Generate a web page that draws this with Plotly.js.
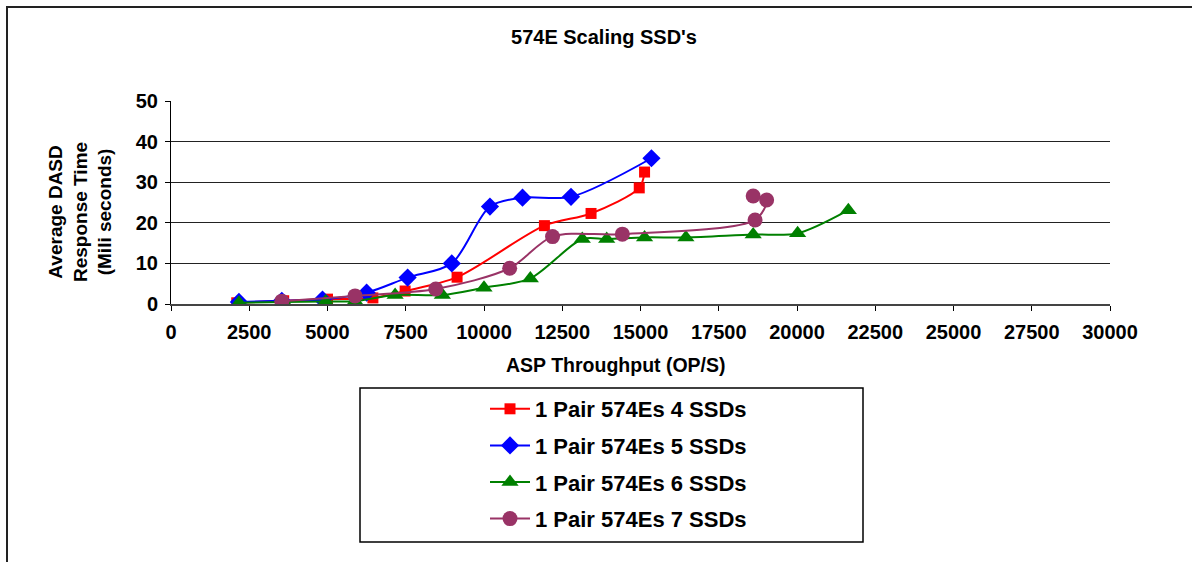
<!DOCTYPE html>
<html>
<head>
<meta charset="utf-8">
<script src="https://cdn.plot.ly/plotly-3.0.1.min.js"></script>
<style>
html,body{margin:0;padding:0;background:#fff;}
#chart{width:1192px;height:562px;}
</style>
</head>
<body>
<div id="chart"></div>
<script>
// ---- data ----
const seriesNames = ["1 Pair 574Es 4 SSDs", "1 Pair 574Es 5 SSDs", "1 Pair 574Es 6 SSDs", "1 Pair 574Es 7 SSDs"];

const ssd4X = [2100, 3600, 5000, 6450, 7480, 9140, 11930, 13420, 14960, 15130];
const ssd4Y = [0.3, 0.8, 1.2, 1.5, 3.2, 6.6, 19.3, 22.3, 28.6, 32.5];

const ssd5X = [2170, 3540, 4840, 6250, 7560, 8970, 10190, 11230, 12780, 15350];
const ssd5Y = [0.5, 0.8, 1.1, 2.8, 6.5, 10.0, 24.0, 26.2, 26.4, 35.9];

const ssd6X = [2170, 3600, 4940, 5880, 7160, 8670, 10000, 11480, 13140, 13920, 15130, 16450, 18600, 20020, 21640];
const ssd6Y = [0.3, 0.5, 0.6, 0.7, 2.2, 2.2, 4.0, 6.3, 16.0, 16.0, 16.4, 16.4, 17.1, 17.4, 23.1];

const ssd7X = [3540, 5880, 8460, 10820, 12190, 14420, 18660, 19030, 18600];
const ssd7Y = [0.7, 2.0, 3.7, 8.8, 16.6, 17.2, 20.7, 25.6, 26.6];

const xTickVals = [0, 2500, 5000, 7500, 10000, 12500, 15000, 17500, 20000, 22500, 25000, 27500, 30000];
const yTickVals = [0, 10, 20, 30, 40, 50];

const chartTitle = "574E Scaling SSD's";
const xTitle = "ASP Throughput (OP/S)";
const yTitle = "Average DASD<br>Response Time<br>(Mili seconds)";

// ---- styling ----
const FONT = "Arial, 'Liberation Sans', sans-serif";
const colors = ["#FF0000", "#0000FF", "#008000", "#993366"];
const symbols = ["square", "diamond", "triangle-up", "circle"];
const sizes = [11, 14, 15, 15];
const xs = [ssd4X, ssd5X, ssd6X, ssd7X];
const ys = [ssd4Y, ssd5Y, ssd6Y, ssd7Y];

const traces = seriesNames.map((name, i) => ({
  type: "scatter",
  mode: "lines+markers",
  name: name,
  legendgroup: "g" + i,
  x: xs[i],
  y: ys[i],
  line: {color: colors[i], width: 2, shape: "spline", smoothing: 0.85},
  marker: {color: colors[i], symbol: symbols[i], size: sizes[i], line: {width: 0}},
  hoverinfo: "x+y+name"
}));

// plot area in pixels: left 171, right 1110, top 101, bottom 304
const L = 171, R = 1110, T = 101, B = 304;
const px = v => (v - L) / (R - L);
const py = v => (B - v) / (B - T);

const layout = {
  width: 1192,
  height: 562,
  margin: {l: L, r: 1192 - R, t: T, b: 562 - B, pad: 0},
  paper_bgcolor: "#ffffff",
  plot_bgcolor: "#ffffff",
  showlegend: true,
  title: {
    text: chartTitle,
    font: {family: FONT, size: 20, color: "#000", weight: "bold"},
    x: 604 / 1192, xref: "container", xanchor: "center",
    y: 1 - 37 / 562, yref: "container", yanchor: "middle"
  },
  xaxis: {
    range: [0, 30000],
    tickvals: xTickVals,
    ticktext: xTickVals.map(String),
    showgrid: false,
    zeroline: false,
    showline: true,
    linecolor: "#444",
    linewidth: 2,
    ticks: "outside",
    ticklen: 5,
    tickcolor: "#000",
    tickwidth: 1,
    ticklabelstandoff: 4,
    tickfont: {family: FONT, size: 20, color: "#000", weight: "bold"},
    fixedrange: true
  },
  yaxis: {
    range: [0, 50],
    tickvals: yTickVals,
    ticktext: yTickVals.map(String),
    showgrid: true,
    gridcolor: "#222",
    gridwidth: 1,
    zeroline: false,
    showline: true,
    linecolor: "#000",
    linewidth: 1,
    ticks: "outside",
    ticklen: 5,
    tickcolor: "#000",
    tickwidth: 1,
    ticklabelstandoff: 3,
    tickfont: {family: FONT, size: 20, color: "#000", weight: "bold"},
    fixedrange: true
  },
  legend: {
    x: px(485), xanchor: "left",
    y: py(388), yanchor: "top",
    bgcolor: "rgba(0,0,0,0)",
    borderwidth: 0,
    font: {family: FONT, size: 22, color: "#000", weight: "bold"},
    tracegroupgap: 5,
    itemwidth: 40
  },
  annotations: [
    {
      text: xTitle, showarrow: false,
      xref: "paper", yref: "paper",
      x: px(616), y: py(365), xanchor: "center", yanchor: "middle",
      font: {family: FONT, size: 19.5, color: "#000", weight: "bold"}
    },
    {
      text: yTitle, showarrow: false, textangle: -90,
      xref: "paper", yref: "paper",
      x: px(80), y: py(212), xanchor: "center", yanchor: "middle",
      font: {family: FONT, size: 19, color: "#000", weight: "bold"}
    }
  ],
  shapes: [
    {
      type: "rect", xref: "paper", yref: "paper", layer: "below",
      x0: px(360), x1: px(863), y0: py(542), y1: py(388),
      line: {color: "#000", width: 1.5}, fillcolor: "rgba(0,0,0,0)"
    },
    {
      type: "rect", xref: "paper", yref: "paper", layer: "below",
      x0: px(7), x1: px(1210), y0: py(580), y1: py(7),
      line: {color: "#222", width: 2}, fillcolor: "rgba(0,0,0,0)"
    }
  ]
};

Plotly.newPlot("chart", traces, layout, {displayModeBar: false, responsive: false, staticPlot: false});
</script>
</body>
</html>
